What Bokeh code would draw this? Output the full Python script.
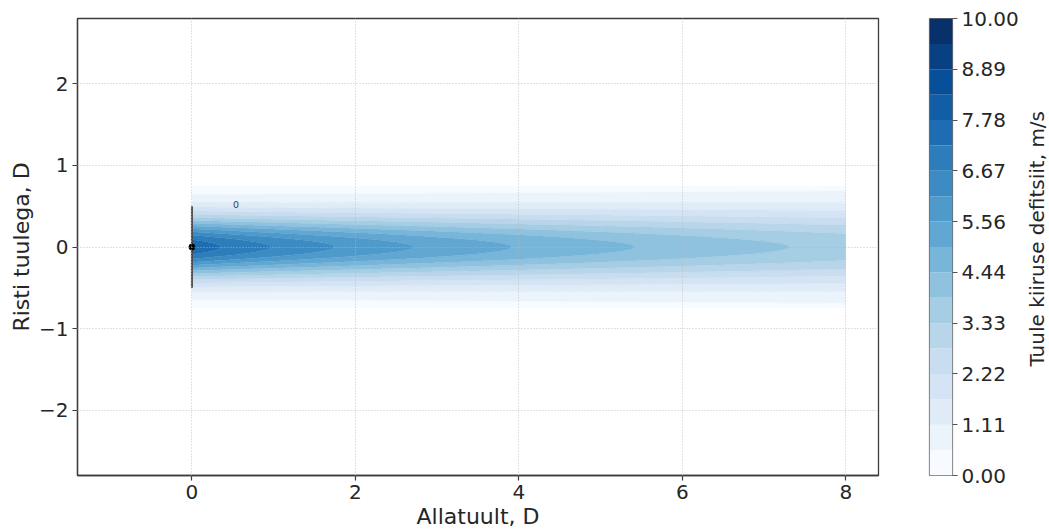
import numpy as np
from bokeh.plotting import figure
from bokeh.layouts import row
from bokeh.models import Range1d, FixedTicker, CustomJSTickFormatter, NumeralTickFormatter, Label
from bokeh.embed import file_html
from bokeh.resources import INLINE
from bokeh.core.properties import value

# Turbine layout, in rotor diameters
turbine_x = [0.0]
turbine_y = [0.0]
turbine_labels = ["0"]
rotor_radius = 0.5

# Gaussian wake model parameters
wind_speed = 10.0        # free-stream speed, m/s
thrust_coeff = 0.6
wake_growth = 0.00875    # d(sigma/D)/d(x/D)
initial_width = 0.282    # sigma/D at the rotor

# Evaluation grid (downstream x, crosswind y), in D
x_grid = np.linspace(0.0, 8.0, 401)
y_grid = np.linspace(-0.75, 0.75, 181)

# Contour levels and ticks
levels = np.linspace(0.0, 10.0, 19)
cbar_ticks = np.linspace(0.0, 10.0, 10)
x_ticks = [0, 2, 4, 6, 8]
y_ticks = [-2, -1, 0, 1, 2]

# Blues colour map nodes
blues_nodes = ["#f7fbff", "#deebf7", "#c6dbef", "#9ecae1", "#6baed6",
               "#4292c6", "#2171b5", "#08519c", "#08306b"]


def blues(t):
    rgb = np.array([[int(h[i:i + 2], 16) for i in (1, 3, 5)] for h in blues_nodes], float)
    pos = np.linspace(0, 1, len(blues_nodes))
    c = [np.interp(t, pos, rgb[:, k]) for k in range(3)]
    return "#%02x%02x%02x" % tuple(int(round(v)) for v in c)


# one colour per band, spread over the whole map from lightest to darkest
n_bands = len(levels) - 1
band_colors = [blues(i / (n_bands - 1)) for i in range(n_bands)]
edge_colors = [blues(min(max((i - 0.5) / (n_bands - 1), 0), 1)) for i in range(len(levels))]

# Wind speed deficit field behind the turbine
X, Y = np.meshgrid(x_grid, y_grid)
deficit = np.zeros_like(X)
for tx, ty in zip(turbine_x, turbine_y):
    dx = X - tx
    sigma = wake_growth * dx + initial_width
    centre = 1.0 - np.sqrt(1.0 - thrust_coeff / (8.0 * sigma ** 2))
    deficit += wind_speed * centre * np.exp(-((Y - ty) ** 2) / (2.0 * sigma ** 2))

FONT = "DejaVu Sans"
TXT = "#262626"
FRAME = "#3c3c3c"
H = 531
TOP, BOTTOM = 18, 55

p = figure(width=900, height=H, x_range=Range1d(-1.4, 8.4), y_range=Range1d(-2.8, 2.8),
           output_backend="svg", toolbar_location=None,
           min_border_left=77, min_border_right=22, min_border_top=TOP, min_border_bottom=BOTTOM)

p.contour(x=x_grid, y=y_grid, z=deficit, levels=levels, fill_color=band_colors,
          line_color=edge_colors, line_width=0.6)

# Rotor disc, hub and turbine id
p.segment(x0=turbine_x, y0=[ty - rotor_radius for ty in turbine_y],
          x1=turbine_x, y1=[ty + rotor_radius for ty in turbine_y],
          line_color="#4a4a4a", line_width=2.0)
p.scatter(x=turbine_x, y=turbine_y, size=6, color="black")
p.text(x=[tx + 0.54 for tx in turbine_x], y=[ty + 0.52 for ty in turbine_y], text=turbine_labels,
       text_font=value(FONT), text_font_size="9.5px", text_color="#444444",
       text_align="center", text_baseline="middle")

p.xaxis.ticker = FixedTicker(ticks=x_ticks)
p.yaxis.ticker = FixedTicker(ticks=y_ticks)
p.yaxis.formatter = CustomJSTickFormatter(
    code="return tick < 0 ? '\u2212' + Math.abs(tick) : '' + tick;")
p.xaxis.axis_label = "Allatuult, D"
p.yaxis.axis_label = "Risti tuulega, D"
for ax in (p.xaxis[0], p.yaxis[0]):
    ax.axis_label_text_font = FONT
    ax.axis_label_text_font_size = "22px"
    ax.axis_label_text_font_style = "normal"
    ax.axis_label_text_color = TXT
    ax.major_label_text_font = FONT
    ax.major_label_text_font_size = "20px"
    ax.major_label_text_color = TXT
    ax.axis_line_color = FRAME
    ax.axis_line_width = 1.3
    ax.major_tick_line_color = FRAME
    ax.major_tick_line_width = 1.2
    ax.major_tick_in = 0
    ax.major_tick_out = 5
    ax.minor_tick_line_color = None
    ax.major_label_standoff = 4
    ax.axis_label_standoff = 2

for g in (p.xgrid[0], p.ygrid[0]):
    g.grid_line_color = "#b8b8b8"
    g.grid_line_width = 0.9
    g.grid_line_dash = "1 2"
    g.grid_line_alpha = 0.9
    g.level = "overlay"

p.outline_line_color = FRAME
p.outline_line_width = 1.3
p.background_fill_color = "white"
p.border_fill_color = "white"

# Colour bar as its own narrow figure
cb = figure(width=121, height=H, x_range=Range1d(0, 1), y_range=Range1d(levels[0], levels[-1]),
            output_backend="svg", toolbar_location=None,
            x_axis_location=None, y_axis_location="right",
            min_border_left=29, min_border_right=68, min_border_top=TOP, min_border_bottom=BOTTOM)
cb.quad(left=0, right=1, bottom=levels[:-1], top=levels[1:], fill_color=band_colors, line_color=None)
cb.grid.visible = False
cb.outline_line_color = "#6e6e6e"
cb.outline_line_width = 1.2
ax = cb.yaxis[0]
ax.ticker = FixedTicker(ticks=list(cbar_ticks))
ax.formatter = NumeralTickFormatter(format="0.00")
ax.major_label_text_font = FONT
ax.major_label_text_font_size = "20px"
ax.major_label_text_color = TXT
ax.axis_line_color = None
ax.major_tick_line_color = "#555555"
ax.major_tick_in = 0
ax.major_tick_out = 5
ax.minor_tick_line_color = None
ax.major_label_standoff = 4

# Colour bar title, reading bottom to top, in its own strip
lab = figure(width=28, height=H, x_range=Range1d(0, 1), y_range=Range1d(0, 1),
             output_backend="svg", toolbar_location=None,
             x_axis_location=None, y_axis_location=None,
             min_border_left=0, min_border_right=0, min_border_top=TOP, min_border_bottom=BOTTOM)
lab.grid.visible = False
lab.outline_line_color = None
lab.add_layout(Label(x=0.55, y=0.518, text="Tuule kiiruse defitsiit, m/s", angle=np.pi / 2,
                     text_font=FONT, text_font_size="20px", text_color=TXT,
                     text_align="center", text_baseline="middle"))

layout = row(p, cb, lab)
open("out.html", "w").write(file_html(layout, INLINE))
